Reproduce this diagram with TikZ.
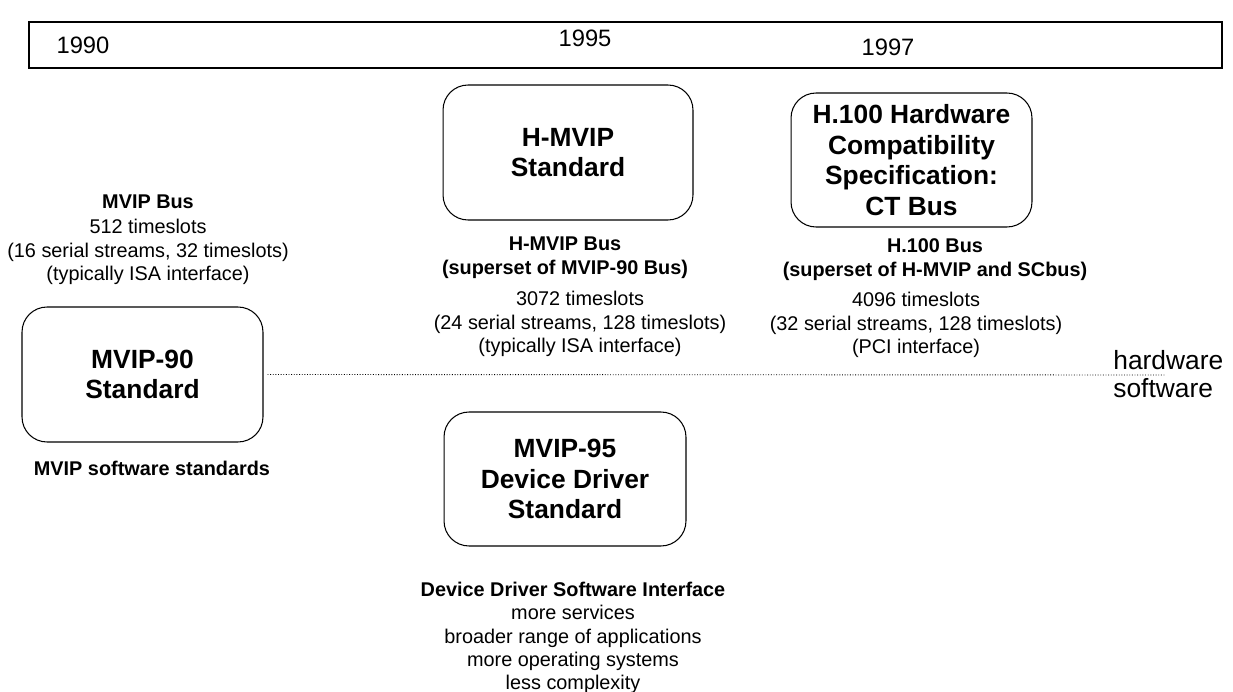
\documentclass[tikz,border=0pt]{standalone}
\usepackage{fontspec}
\setmainfont{Liberation Sans}

\begin{document}
\begin{tikzpicture}[x=0.02cm, y=-0.02cm,
		every node/.style={align=center, inner sep=0pt, font=\fontsize{11.3}{13.2}\selectfont},
		stdbox/.style={draw, line width=0.6pt, rounded corners=0.5cm, font=\fontsize{15}{17.5}\selectfont\bfseries},
		heading/.style={font=\fontsize{11.3}{13.6}\selectfont\bfseries},
		year/.style={font=\fontsize{13.5}{16}\selectfont},
		layer/.style={font=\fontsize{15}{17}\selectfont, anchor=west}]
	\useasboundingbox (0,0) rectangle (1233,692);

	% Timeline
	\draw[line width=0.6pt] (29,22) rectangle (1222,68);
	\node[year] (y1990) at (83,45) {1990};
	\node[year] (y1995) at (585,38) {1995};
	\node[year] (y1997) at (888,47) {1997};

	% Standards
	\node[stdbox, minimum width=4.82cm, minimum height=2.7cm] (mvip90) at (142.5,374.5) {MVIP-90\\Standard};
	\node[stdbox, minimum width=5.0cm, minimum height=2.7cm] (hmvip) at (568,152.5) {H-MVIP\\Standard};
	\node[stdbox, minimum width=4.82cm, minimum height=2.68cm] (h100) at (911.5,160) {H.100 Hardware\\Compatibility\\Specification:\\CT Bus};
	\node[stdbox, minimum width=4.84cm, minimum height=2.68cm] (mvip95) at (565,479) {MVIP-95\\Device Driver\\Standard};

	% Descriptions
	\node[heading] (mvipbus) at (148,202) {MVIP Bus};
	\node (mvipdata) at (148,252) {512 timeslots\\(16 serial streams, 32 timeslots)\\(typically ISA interface)};
	\node[heading] (mvipsw) at (152,468) {MVIP software standards};

	\node[heading] (hmvipbus) at (565,258) {H-MVIP Bus\\(superset of MVIP-90 Bus)};
	\node (hmvipdata) at (580,324) {3072 timeslots\\(24 serial streams, 128 timeslots)\\(typically ISA interface)};

	\node[heading] (h100bus) at (935,260) {H.100 Bus\\(superset of H-MVIP and SCbus)};
	\node (h100data) at (916,325) {4096 timeslots\\(32 serial streams, 128 timeslots)\\(PCI interface)};

	\node (ddsi) at (573,638) {\textbf{Device Driver Software Interface}\\more services\\broader range of applications\\more operating systems\\less complexity};

	% Hardware / software border
	\coordinate (lineend) at (1165,375);
	\draw[densely dotted, line width=0.5pt] (mvip90.east) ++(4,0) -- (lineend);
	\node[layer] (hw) at (1113,360) {hardware};
	\node[layer] (sw) at (1113,388) {software};
\end{tikzpicture}
\end{document}
